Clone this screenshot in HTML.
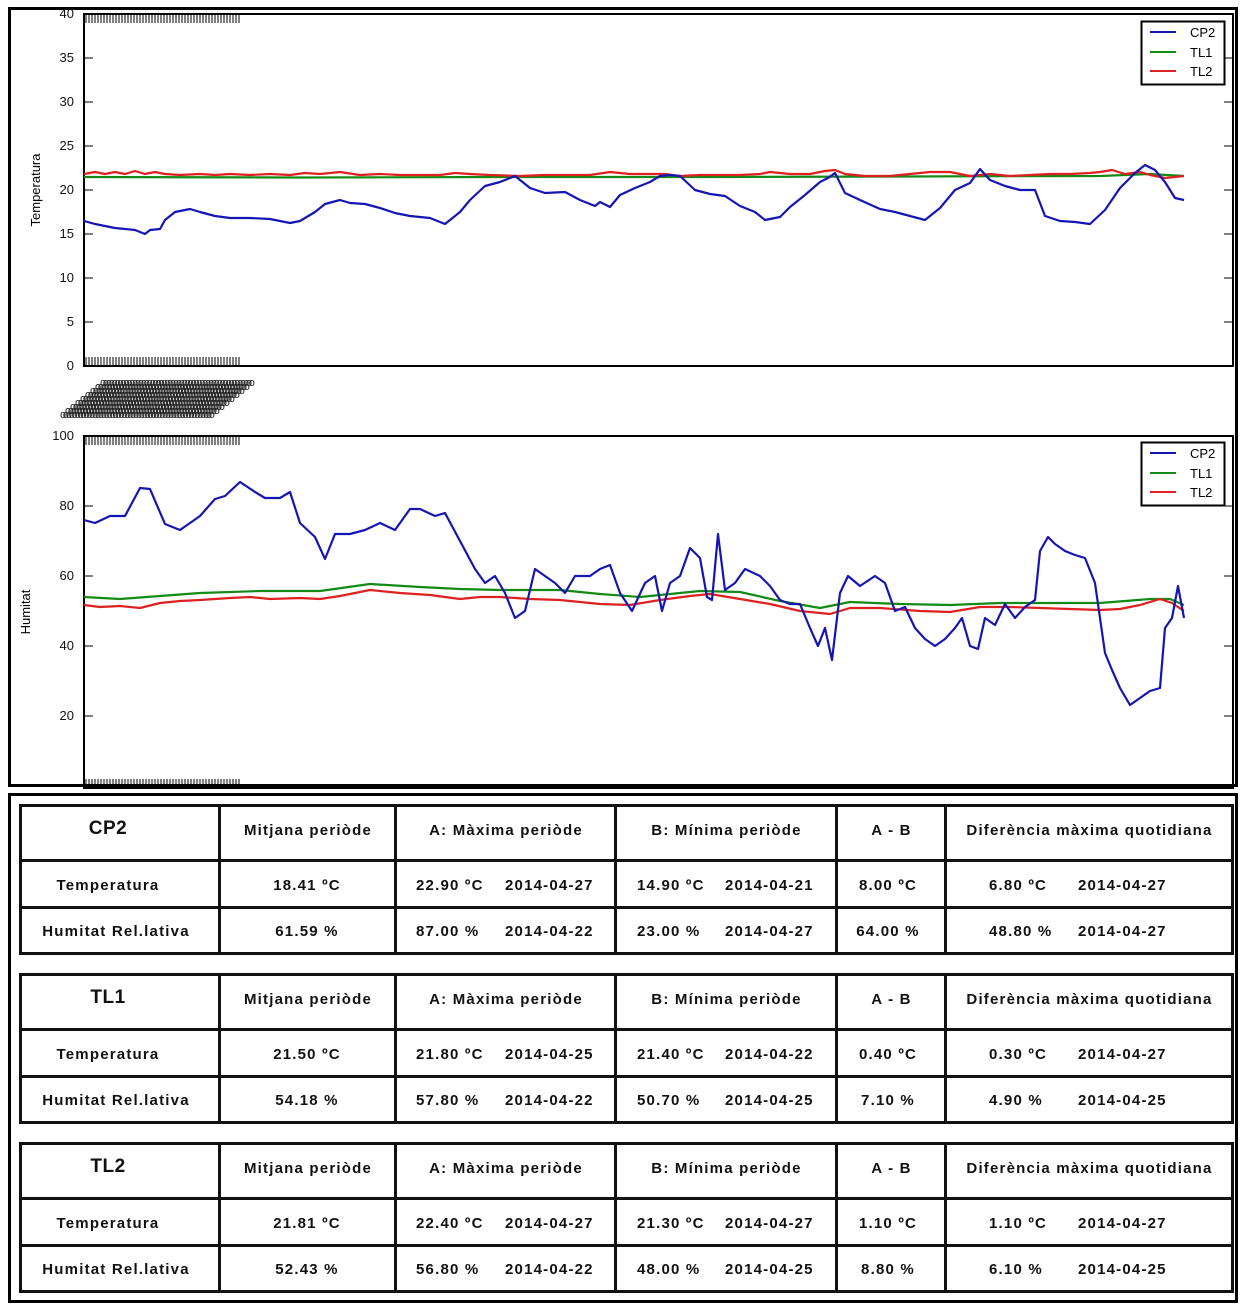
<!DOCTYPE html>
<html><head><meta charset="utf-8"><style>
body{margin:0;width:1246px;height:1306px;background:#fff;position:relative;overflow:hidden;font-family:"Liberation Sans",sans-serif}
.c{position:absolute;font-weight:bold;font-size:15px;letter-spacing:1.2px;color:#111;white-space:nowrap}
.b{position:absolute;background:#111}
</style></head><body>
<svg id="s" width="1246" height="790" style="position:absolute;left:0;top:0" font-family="Liberation Sans, DejaVu Sans, sans-serif">
<rect x="9.5" y="8.5" width="1227" height="777" fill="none" stroke="#000" stroke-width="3"/>
<rect x="84" y="14" width="1149" height="352" fill="none" stroke="#000" stroke-width="2"/>
<rect x="84" y="436" width="1149" height="352" fill="none" stroke="#000" stroke-width="2"/>
<g font-size="13" text-anchor="end" fill="#111">
<text x="74" y="18">40</text><text x="74" y="62">35</text><text x="74" y="106">30</text><text x="74" y="150">25</text><text x="74" y="194">20</text><text x="74" y="238">15</text><text x="74" y="282">10</text><text x="74" y="326">5</text><text x="74" y="370">0</text>
<text x="74" y="440">100</text><text x="74" y="510">80</text><text x="74" y="580">60</text><text x="74" y="650">40</text><text x="74" y="720">20</text>
</g>
<text transform="translate(40,190) rotate(-90)" font-size="13" text-anchor="middle">Temperatura</text>
<text transform="translate(30,612) rotate(-90)" font-size="13" text-anchor="middle">Humitat</text>
<g id="ticks" stroke="#000" stroke-width="1"></g>
<g id="garb" font-size="11" fill="#222"></g>
<g fill="none" stroke-width="2.2" stroke-linejoin="round">
<polyline stroke="#138a13" points="84,177 300,177.5 500,177 700,177 900,176.5 1100,176 1150,174 1184,176"/>
<polyline stroke="#dd2020" points="84,174 95,172 105,174 115,172 125,174 135,171 145,174 155,172 165,174 180,175 200,174 215,175 230,174 250,175 270,174 290,175 305,173 320,174 340,172 360,175 380,174 400,175 420,175 440,175 455,173 470,174 490,175 520,176 545,175 570,175 590,175 610,172 630,174 650,174 665,174 680,176 700,175 720,175 740,175 760,174 770,172 790,174 810,174 825,171 835,170 845,174 865,176 890,176 910,174 930,172 950,172 970,176 990,174 1010,176 1030,175 1050,174 1070,174 1090,173 1100,172 1112,170 1125,174 1140,172 1150,175 1165,178 1184,176"/>
<polyline stroke="#1515b5" points="84,221 95,224 105,226 115,228 125,229 135,230 145,234 150,230 160,229 165,220 175,212 190,209 200,212 215,216 230,218 250,218 270,219 290,223 300,221 315,212 325,204 340,200 350,203 365,204 380,208 395,213 410,216 430,218 445,224 460,212 470,200 485,186 500,182 515,176 530,188 545,193 565,192 580,200 595,206 600,202 610,207 620,195 635,188 650,182 660,176 670,175 680,176 695,190 710,194 725,196 740,206 755,212 765,220 780,217 790,207 805,195 820,182 828,178 835,173 845,193 860,200 880,209 895,212 910,216 925,220 940,208 955,190 970,183 980,169 990,180 1005,186 1020,190 1035,190 1045,216 1060,221 1075,222 1090,224 1105,210 1120,188 1135,173 1145,165 1155,170 1165,182 1175,198 1184,200"/>
<polyline stroke="#138a13" points="84,597 120,599 160,596 200,593 260,591 320,591 370,584 420,587 460,589 500,590 560,590 600,594 640,597 700,591 740,592 780,601 820,608 850,602 900,604 950,605 1000,603 1100,603 1150,599 1170,599 1184,605"/>
<polyline stroke="#dd2020" points="84,605 100,607 120,606 140,608 160,603 180,601 200,600 230,598 250,597 270,599 300,598 320,599 340,596 370,590 400,593 430,595 460,599 480,597 500,597 530,599 560,600 600,604 630,605 660,600 690,596 710,594 740,599 770,604 800,611 830,614 850,608 880,608 920,611 950,612 980,607 1010,607 1040,608 1070,609 1100,610 1120,609 1140,605 1160,599 1172,603 1184,611"/>
<polyline stroke="#1515b5" points="84,520 95,523 110,516 125,516 140,488 150,489 165,524 180,530 200,516 215,499 225,496 240,482 255,492 265,498 280,498 290,492 300,523 315,537 325,559 335,534 350,534 365,530 380,523 395,530 410,509 420,509 435,516 445,513 460,541 475,569 485,583 495,576 505,593 515,618 525,611 535,569 545,576 555,583 565,593 575,576 590,576 600,569 610,565 620,593 632,611 645,583 655,576 662,611 670,583 680,576 690,548 700,558 707,597 712,600 718,534 725,590 735,583 745,569 760,576 770,586 780,600 790,604 800,604 810,628 818,646 825,628 832,660 840,593 848,576 860,586 875,576 885,583 895,611 905,607 915,628 925,639 935,646 945,639 955,628 962,618 970,646 978,649 985,618 995,625 1005,604 1015,618 1025,607 1035,600 1040,551 1048,537 1055,544 1065,551 1075,555 1085,558 1095,583 1100,618 1105,653 1112,670 1120,688 1130,705 1140,698 1150,691 1160,688 1165,628 1172,618 1178,586 1184,618"/>
</g>
<g font-size="13">
<rect x="1141.5" y="21.5" width="83" height="63" fill="#fff" stroke="#000" stroke-width="2"/>
<line x1="1150" y1="32" x2="1176" y2="32" stroke="#1515b5" stroke-width="2"/><text x="1190" y="37">CP2</text>
<line x1="1150" y1="52" x2="1176" y2="52" stroke="#138a13" stroke-width="2"/><text x="1190" y="57">TL1</text>
<line x1="1150" y1="71" x2="1176" y2="71" stroke="#dd2020" stroke-width="2"/><text x="1190" y="76">TL2</text>
<rect x="1141.5" y="442.5" width="83" height="63" fill="#fff" stroke="#000" stroke-width="2"/>
<line x1="1150" y1="453" x2="1176" y2="453" stroke="#1515b5" stroke-width="2"/><text x="1190" y="458">CP2</text>
<line x1="1150" y1="473" x2="1176" y2="473" stroke="#138a13" stroke-width="2"/><text x="1190" y="478">TL1</text>
<line x1="1150" y1="492" x2="1176" y2="492" stroke="#dd2020" stroke-width="2"/><text x="1190" y="497">TL2</text>
</g>
</svg>
<div style="position:absolute;left:8px;top:793px;width:1224px;height:504px;border:3px solid #000"></div>
<div id="t"></div>
<script>
var tk=document.getElementById('ticks'),h='';
for(var i=0;i<52;i++){var x=86+i*3;h+='<line x1="'+x+'" y1="15" x2="'+x+'" y2="23"/><line x1="'+x+'" y1="365" x2="'+x+'" y2="357"/><line x1="'+x+'" y1="437" x2="'+x+'" y2="445"/><line x1="'+x+'" y1="787" x2="'+x+'" y2="779"/>';}
[58,102,146,190,234,278,322,506,576,646,716].forEach(function(y){h+='<line x1="84" y1="'+y+'" x2="93" y2="'+y+'"/><line x1="1224" y1="'+y+'" x2="1233" y2="'+y+'"/>';});
tk.innerHTML=h;
var g=document.getElementById('garb'),s='';
for(var r=0;r<9;r++){s+='<text x="'+(100-r*5)+'" y="'+(386+r*4)+'" letter-spacing="-3.2">'+'o'.repeat(52)+'</text>';}
g.innerHTML=s;
var T=document.getElementById('t'),o='';
var cols=[20,219,395,615,836,945,1232];
var data=[
['CP2',[['18.41 ºC','22.90 ºC','2014-04-27','14.90 ºC','2014-04-21','8.00 ºC','6.80 ºC','2014-04-27'],['61.59 %','87.00 %','2014-04-22','23.00 %','2014-04-27','64.00 %','48.80 %','2014-04-27']]],
['TL1',[['21.50 ºC','21.80 ºC','2014-04-25','21.40 ºC','2014-04-22','0.40 ºC','0.30 ºC','2014-04-27'],['54.18 %','57.80 %','2014-04-22','50.70 %','2014-04-25','7.10 %','4.90 %','2014-04-25']]],
['TL2',[['21.81 ºC','22.40 ºC','2014-04-27','21.30 ºC','2014-04-27','1.10 ºC','1.10 ºC','2014-04-27'],['52.43 %','56.80 %','2014-04-22','48.00 %','2014-04-25','8.80 %','6.10 %','2014-04-25']]]];
var tops=[805,974,1143];
function c(x,y,txt,w,fs){return '<div class="c" style="left:'+x+'px;top:'+y+'px;'+(w?'width:'+w+'px;text-align:center;':'')+(fs?'font-size:'+fs+'px;letter-spacing:0.5px;':'')+'">'+txt+'</div>';}
data.forEach(function(d,k){var t=tops[k],rb=[t,t+55,t+102,t+148];
rb.forEach(function(y){o+='<div class="b" style="left:20px;top:'+(y-1)+'px;width:1213px;height:3px"></div>';});
cols.forEach(function(x){o+='<div class="b" style="left:'+(x-1)+'px;top:'+(t-1)+'px;width:3px;height:151px"></div>';});
o+=c(20,t+13,d[0],176,19);
var hd=['Mitjana periòde','A: Màxima periòde','B: Mínima periòde','A - B','Diferència màxima quotidiana'];
for(var i=0;i<5;i++)o+=c(cols[i+1]+2,t+17,hd[i],cols[i+2]-cols[i+1]-2);
['Temperatura','Humitat Rel.lativa'].forEach(function(lb,j){var y=(j?t+118:t+72);var v=d[1][j];
o+=c(20,y,lb,j?192:176);
o+=c(219,y,v[0],176);
o+=c(416,y,v[1]);o+=c(505,y,v[2]);
o+=c(637,y,v[3]);o+=c(725,y,v[4]);
o+=c(836,y,v[5],104);
o+=c(989,y,v[6]);o+=c(1078,y,v[7]);});
});
T.innerHTML=o;
</script>
</body></html>
